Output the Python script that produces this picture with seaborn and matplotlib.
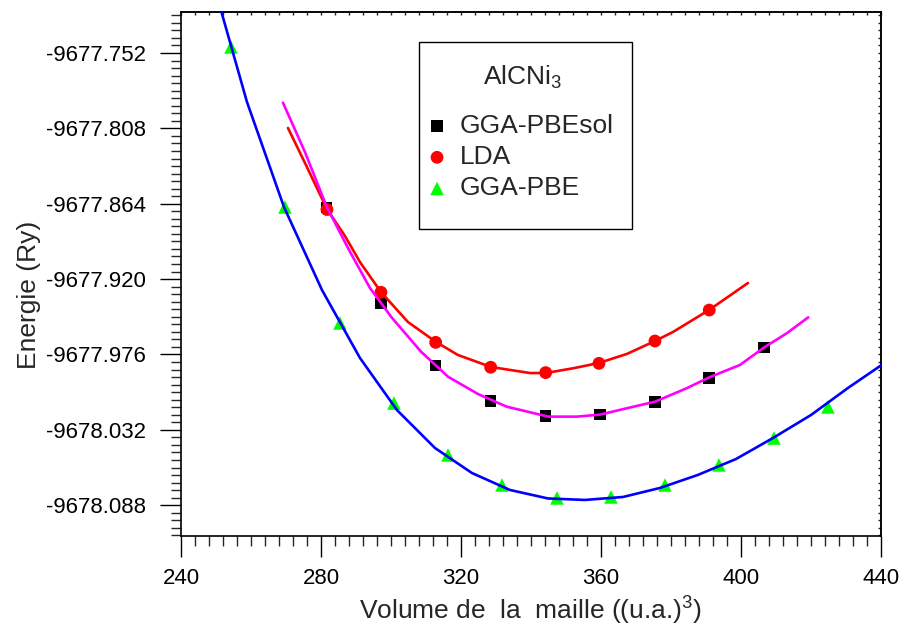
import numpy as np
import pandas as pd
import matplotlib
matplotlib.use("Agg")
import matplotlib.pyplot as plt
import seaborn as sns
from matplotlib.patches import Rectangle
from matplotlib.ticker import FixedLocator, AutoMinorLocator, NullFormatter, FormatStrFormatter

# ---- measured points ----
v_pbesol = [281.63, 297.14, 312.77, 328.49, 344.20, 359.71, 375.43, 390.94, 406.66]
e_pbesol = [-9677.8668, -9677.9380, -9677.9843, -9678.0106, -9678.0215, -9678.0207,
            -9678.0111, -9677.9937, -9677.9707]

v_lda = [281.71, 297.14, 312.77, 328.49, 344.20, 359.43, 375.43, 390.94]
e_lda = [-9677.8683, -9677.9298, -9677.9670, -9677.9855, -9677.9895, -9677.9826,
         -9677.9660, -9677.9430]

v_pbe = [254.29, 269.71, 285.43, 300.86, 316.29, 331.71, 347.43, 362.86, 378.29,
         393.71, 409.43, 424.86]
e_pbe = [-9677.7475, -9677.8664, -9677.9526, -9678.0121, -9678.0507, -9678.0730,
         -9678.0826, -9678.0819, -9678.0730, -9678.0581, -9678.0381, -9678.0150]

# ---- fitted curves ----
fit_v_pbe = [248.0, 258.86, 269.43, 280.29, 291.14, 301.71, 312.57, 323.14, 334.0,
             344.86, 355.43, 366.29, 376.86, 387.71, 398.57, 409.14, 420.0, 430.57, 441.43]
fit_e_pbe = [-9677.6888, -9677.7884, -9677.8664, -9677.9281, -9677.9786, -9678.0173,
             -9678.0455, -9678.0641, -9678.0767, -9678.0830, -9678.0841, -9678.0819,
             -9678.0752, -9678.0655, -9678.0537, -9678.0381, -9678.0210, -9678.0009,
             -9677.9816]

fit_v_lda = [270.57, 275.43, 281.71, 286.86, 291.14, 297.14, 304.86, 312.86, 319.14,
             328.57, 339.71, 344.29, 352.57, 359.43, 367.43, 375.43, 380.57, 390.86, 402.0]
fit_e_lda = [-9677.8077, -9677.8337, -9677.8679, -9677.8880, -9677.9073, -9677.9296,
             -9677.9519, -9677.9667, -9677.9764, -9677.9853, -9677.9898, -9677.9898,
             -9677.9860, -9677.9823, -9677.9756, -9677.9660, -9677.9593, -9677.9430,
             -9677.9229]

fit_v_pbesol = [269.14, 275.43, 281.63, 287.71, 294.0, 300.2, 308.57, 316.29, 324.86,
                333.06, 344.94, 353.06, 359.71, 367.34, 375.43, 384.49, 390.94, 399.71,
                406.66, 413.06, 419.23]
fit_e_pbesol = [-9677.7889, -9677.8256, -9677.8662, -9677.8969, -9677.9266, -9677.9485,
                -9677.9739, -9677.9925, -9678.0054, -9678.0148, -9678.0222, -9678.0222,
                -9678.0207, -9678.0160, -9678.0111, -9678.0011, -9677.9930, -9677.9838,
                -9677.9707, -9677.9603, -9677.9484]

y_ticks = [-9678.088, -9678.032, -9677.976, -9677.920, -9677.864, -9677.808, -9677.752]
x_ticks = [240, 280, 320, 360, 400, 440]

sns.set_style("ticks")
plt.rcParams['font.family'] = ['Liberation Sans', 'DejaVu Sans']
plt.rcParams['mathtext.fontset'] = 'custom'
plt.rcParams['mathtext.rm'] = 'Liberation Sans'
plt.rcParams['mathtext.it'] = 'Liberation Sans:italic'

fig, ax = plt.subplots(figsize=(9.03, 6.30), dpi=100)
fig.subplots_adjust(left=0.2004, right=0.9756, bottom=0.1492, top=0.981)

# markers
sns.scatterplot(x=v_pbesol, y=e_pbesol, marker='s', s=70, color='black', edgecolor='none',
                label='GGA-PBEsol', ax=ax, zorder=3)
sns.scatterplot(x=v_lda, y=e_lda, marker='o', s=85, color='#FF0000', edgecolor='none',
                label='LDA', ax=ax, zorder=3)
sns.scatterplot(x=v_pbe, y=e_pbe, marker='^', s=95, color='#00FF00', edgecolor='none',
                label='GGA-PBE', ax=ax, zorder=3)

# fitted curves
sns.lineplot(x=fit_v_pbe, y=fit_e_pbe, color='#0000FF', lw=1.9, sort=False,
             estimator=None, ax=ax, zorder=4)
sns.lineplot(x=fit_v_lda, y=fit_e_lda, color='#FF0000', lw=1.9, sort=False,
             estimator=None, ax=ax, zorder=4)
sns.lineplot(x=fit_v_pbesol, y=fit_e_pbesol, color='#FF00FF', lw=1.9, sort=False,
             estimator=None, ax=ax, zorder=4)

ax.set_xlim(240, 440)
ax.set_ylim(-9678.1109, -9677.7215)

ax.xaxis.set_major_locator(FixedLocator(x_ticks))
ax.xaxis.set_minor_locator(AutoMinorLocator(10))
ax.yaxis.set_major_locator(FixedLocator(y_ticks))
ax.yaxis.set_minor_locator(AutoMinorLocator(10))
ax.yaxis.set_major_formatter(FormatStrFormatter('%.3f'))

for sp in ax.spines.values():
    sp.set_linewidth(1.2)
    sp.set_color('black')
    sp.set_visible(True)

ax.tick_params(axis='both', which='major', direction='out', length=15, width=1.0,
               labelsize=16, colors='black')
ax.tick_params(axis='both', which='minor', direction='out', length=7.5, width=1.0)
ax.tick_params(axis='y', which='major', pad=10)
ax.tick_params(axis='x', which='major', pad=8)

# small ticks on top/right
secx = ax.secondary_xaxis('top')
secx.xaxis.set_major_locator(FixedLocator(x_ticks))
secx.xaxis.set_minor_locator(AutoMinorLocator(10))
secx.xaxis.set_major_formatter(NullFormatter())
secx.tick_params(axis='x', which='both', direction='in', length=2.5, width=1.0)
secy = ax.secondary_yaxis('right')
secy.yaxis.set_major_locator(FixedLocator(y_ticks))
secy.yaxis.set_minor_locator(AutoMinorLocator(10))
secy.yaxis.set_major_formatter(NullFormatter())
secy.tick_params(axis='y', which='both', direction='in', length=2.5, width=1.0)
for s in (secx, secy):
    for sp in s.spines.values():
        sp.set_linewidth(1.2)

ax.set_xlabel('Volume de  la  maille ((u.a.)$^3$)', fontsize=19, labelpad=4)
ax.set_ylabel('Energie (Ry)', fontsize=19)
ax.yaxis.set_label_coords(-0.2, 0.46)

# legend frame + frameless legend inside it
ax.add_patch(Rectangle((0.34, 0.5859), 0.3043, 0.3568, transform=ax.transAxes,
                       facecolor='white', edgecolor='black', lw=1.0, zorder=5))
handles, labels = ax.get_legend_handles_labels()
leg = ax.legend(handles[:3], labels[:3], title='AlCNi$_3$', loc='upper left',
                bbox_to_anchor=(0.3564, 0.902), frameon=False,
                fontsize=19, title_fontsize=19,
                borderpad=0, labelspacing=0.27, handlelength=0.5, handletextpad=0.62,
                borderaxespad=0)
leg.set_zorder(6)
leg._legend_box.sep = 17

fig.savefig('out.png', dpi=100)
